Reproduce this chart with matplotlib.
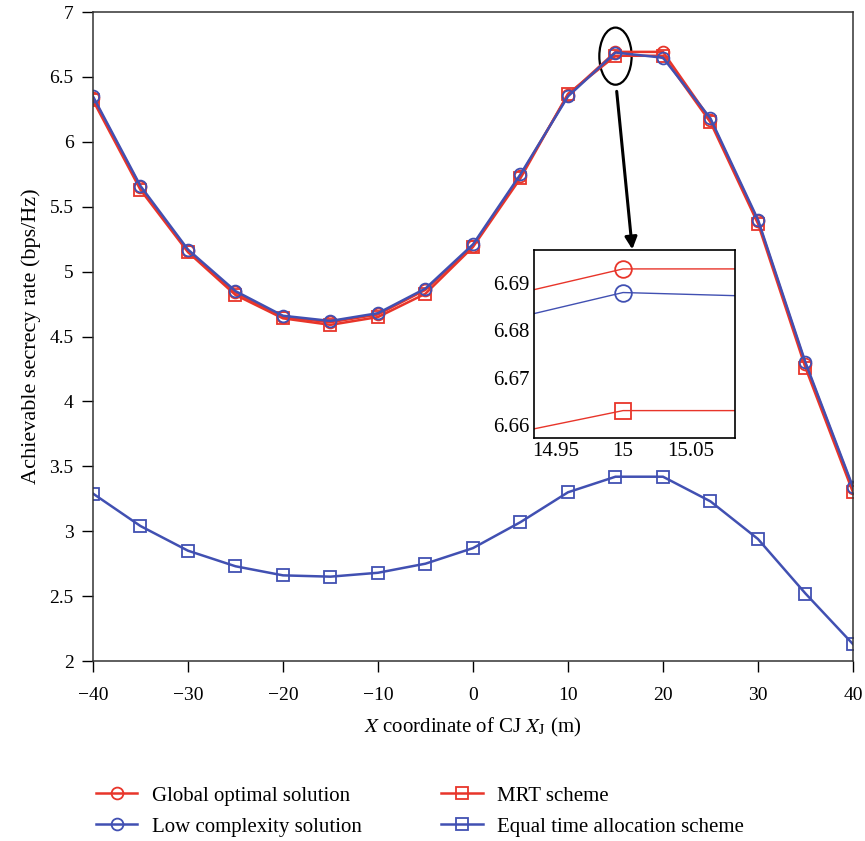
import matplotlib
matplotlib.use("Agg")
import matplotlib.pyplot as plt
from matplotlib.patches import Ellipse

plt.rcParams['font.family'] = ['Liberation Serif', 'DejaVu Serif']
plt.rcParams['mathtext.fontset'] = 'stix'

# data
x_pos = [-40, -35, -30, -25, -20, -15, -10, -5, 0, 5, 10, 15, 20, 25, 30, 35, 40]
global_opt = [6.34, 5.65, 5.16, 4.84, 4.65, 4.61, 4.67, 4.86, 5.20, 5.74, 6.36, 6.693, 6.693, 6.17, 5.39, 4.29, 3.33]
low_complex = [6.35, 5.66, 5.17, 4.85, 4.66, 4.62, 4.68, 4.87, 5.21, 5.75, 6.35, 6.688, 6.648, 6.18, 5.40, 4.30, 3.34]
mrt = [6.32, 5.63, 5.15, 4.82, 4.64, 4.59, 4.65, 4.83, 5.19, 5.72, 6.37, 6.663, 6.663, 6.15, 5.37, 4.26, 3.30]
equal_time = [3.29, 3.04, 2.85, 2.73, 2.66, 2.65, 2.68, 2.75, 2.87, 3.07, 3.30, 3.42, 3.42, 3.23, 2.94, 2.52, 2.13]

series_labels = ["Global optimal solution", "Low complexity solution",
                 "MRT scheme", "Equal time allocation scheme"]

red = "#e8352a"
blue = "#4150b2"

fig = plt.figure(figsize=(8.65, 8.41), dpi=100)
ax = fig.add_axes([0.1075, 0.214, 0.8786, 0.7717])

def draw(a, ms, lw):
    l1, = a.plot(x_pos, global_opt, color=red, marker='o', ms=ms, mfc='none', mew=1.3, lw=lw)
    l3, = a.plot(x_pos, mrt, color=red, marker='s', ms=ms, mfc='none', mew=1.3, lw=lw)
    l2, = a.plot(x_pos, low_complex, color=blue, marker='o', ms=ms, mfc='none', mew=1.3, lw=lw)
    l4, = a.plot(x_pos, equal_time, color=blue, marker='s', ms=ms, mfc='none', mew=1.3, lw=lw)
    return [l1, l2, l3, l4]

lines = draw(ax, 8.5, 1.8)
ax.set_xlim(-40, 40)
ax.set_ylim(2, 7)
ax.set_xticks(range(-40, 41, 10))
ax.set_yticks([2, 2.5, 3, 3.5, 4, 4.5, 5, 5.5, 6, 6.5, 7])
ax.set_yticklabels(["2", "2.5", "3", "3.5", "4", "4.5", "5", "5.5", "6", "6.5", "7"])
ax.tick_params(labelsize=14, length=8, width=1, direction='out', right=False, top=False)
ax.tick_params(axis='x', pad=11)
ax.tick_params(axis='y', pad=6)
for s in ax.spines.values():
    s.set_linewidth(1.1)
    s.set_color("#333333")
ax.set_xlabel(r"$X$ coordinate of CJ $X_{\rm J}$ (m)", fontsize=15, labelpad=8)
ax.set_ylabel("Achievable secrecy rate (bps/Hz)", fontsize=16, labelpad=6)

# ellipse + arrow pointing to the zoomed area
ax.add_patch(Ellipse((15, 6.66), 3.4, 0.44, fill=False, color='black', lw=1.6))
ax.annotate("", xy=(16.8, 5.15), xytext=(15.1, 6.41),
            arrowprops=dict(arrowstyle='-|>', color='black', lw=2.2, mutation_scale=18))

# inset
ins = fig.add_axes([0.6173, 0.4792, 0.2324, 0.2235])
draw(ins, 12, 1.0)
ins.set_xlim(14.934, 15.083)
ins.set_ylim(6.6572, 6.697)
ins.set_xticks([14.95, 15, 15.05])
ins.set_xticklabels(["14.95", "15", "15.05"])
ins.set_yticks([6.66, 6.67, 6.68, 6.69])
ins.set_yticklabels(["6.66", "6.67", "6.68", "6.69"])
ins.tick_params(labelsize=15, length=0, pad=3)
for s in ins.spines.values():
    s.set_linewidth(1.2)

fig.legend(lines, series_labels, loc='lower left', bbox_to_anchor=(0.089, -0.017), ncol=2,
           frameon=False, fontsize=15, columnspacing=3.8, handlelength=2.0,
           labelspacing=0.55, handletextpad=0.7)

fig.savefig("out.png", dpi=100)
